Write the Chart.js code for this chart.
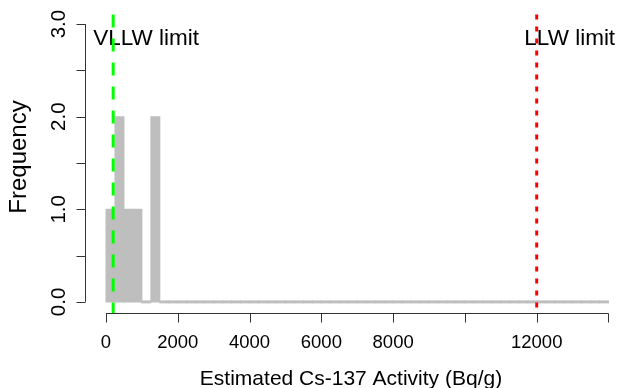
<!DOCTYPE html>
<html>
<head>
<meta charset="utf-8">
<script src="https://cdn.jsdelivr.net/npm/chart.js@4"></script>
<style>
  html, body { margin: 0; padding: 0; background: #fff; }
  #wrap { width: 617px; height: 388px; }
</style>
</head>
<body>
<div id="wrap"><canvas id="histChart" width="617" height="388"></canvas></div>
<script>
// histogram bins (Bq/g), 250 wide
const binWidth = 250;
const binStarts = [
  0, 250, 500, 750, 1000, 1250, 1500, 1750, 2000, 2250, 2500, 2750, 3000, 3250,
  3500, 3750, 4000, 4250, 4500, 4750, 5000, 5250, 5500, 5750, 6000, 6250, 6500, 6750,
  7000, 7250, 7500, 7750, 8000, 8250, 8500, 8750, 9000, 9250, 9500, 9750, 10000, 10250, 10500, 10750,
  11000, 11250, 11500, 11750, 12000, 12250, 12500, 12750, 13000, 13250, 13500, 13750
];
const counts = [
  1, 2, 1, 1, 0, 2, 0, 0, 0, 0, 0, 0, 0, 0,
  0, 0, 0, 0, 0, 0, 0, 0, 0, 0, 0, 0, 0, 0,
  0, 0, 0, 0, 0, 0, 0, 0, 0, 0, 0, 0, 0, 0, 0, 0,
  0, 0, 0, 0, 0, 0, 0, 0, 0, 0, 0, 0
];

const xTicks = [0, 2000, 4000, 6000, 8000, 10000, 12000, 14000];
const xTickLabels = ["0", "2000", "4000", "6000", "8000", "", "12000", ""];
const yTicks = [0, 0.5, 1, 1.5, 2, 2.5, 3];
const yTickLabels = ["0.0", "", "1.0", "", "2.0", "", "3.0"];

const limitNames = ["VLLW limit", "LLW limit"];
const limitValues = [200, 12000];
const limitColors = ["#00FF00", "#FF0000"];
const limitDashes = [[13, 11], [5, 7]];

const xTitle = "Estimated Cs-137 Activity (Bq/g)";
const yTitle = "Frequency";

const font = "'Liberation Sans', Arial, Helvetica, sans-serif";

// R-style axes, tick labels, titles and the limit lines
const rAxes = {
  id: "rAxes",
  afterDraw(chart) {
    const c = chart.ctx;
    const x = chart.scales.x;
    const y = chart.scales.y;
    const area = chart.chartArea;

    c.save();
    c.strokeStyle = "#333";
    c.lineWidth = 1;

    // x axis
    const ax = Math.round(area.bottom) + 0.5;
    c.beginPath();
    c.moveTo(x.getPixelForValue(xTicks[0]), ax);
    c.lineTo(x.getPixelForValue(xTicks[xTicks.length - 1]), ax);
    xTicks.forEach(v => {
      const px = Math.round(x.getPixelForValue(v)) + 0.5;
      c.moveTo(px, ax);
      c.lineTo(px, ax + 9);
    });
    c.stroke();

    // y axis
    const ay = Math.round(area.left) + 0.5;
    c.beginPath();
    c.moveTo(ay, y.getPixelForValue(yTicks[0]));
    c.lineTo(ay, y.getPixelForValue(yTicks[yTicks.length - 1]));
    yTicks.forEach(v => {
      const py = Math.round(y.getPixelForValue(v)) + 0.5;
      c.moveTo(ay, py);
      c.lineTo(ay - 9, py);
    });
    c.stroke();

    c.fillStyle = "#000";
    c.textAlign = "center";
    c.textBaseline = "alphabetic";
    c.font = "18.5px " + font;
    xTicks.forEach((v, i) => {
      if (xTickLabels[i]) c.fillText(xTickLabels[i], x.getPixelForValue(v), ax + 34);
    });
    c.font = "20.5px " + font;
    yTicks.forEach((v, i) => {
      if (!yTickLabels[i]) return;
      c.save();
      c.translate(ay - 21, y.getPixelForValue(v));
      c.rotate(-Math.PI / 2);
      c.fillText(yTickLabels[i], 0, 0);
      c.restore();
    });

    // titles
    c.font = "21px " + font;
    c.fillText(xTitle, 351, 385);
    c.font = "24px " + font;
    c.save();
    c.translate(26, (area.top + area.bottom) / 2 - 6);
    c.rotate(-Math.PI / 2);
    c.fillText(yTitle, 0, 0);
    c.restore();

    // limit labels
    c.font = "22.5px " + font;
    limitNames.forEach((name, i) => {
      c.fillText(name, x.getPixelForValue(limitValues[i]) + 33, 45);
    });

    // limit lines
    c.lineWidth = 3;
    limitValues.forEach((v, i) => {
      const px = x.getPixelForValue(v);
      c.strokeStyle = limitColors[i];
      c.setLineDash(limitDashes[i]);
      c.lineDashOffset = -1.5;
      c.beginPath();
      c.moveTo(px, area.top);
      c.lineTo(px, area.bottom);
      c.stroke();
    });
    c.restore();
  }
};

const ctx = document.getElementById("histChart");

new Chart(ctx, {
  type: "bar",
  data: {
    datasets: [{
      data: counts.map((n, i) => ({ x: binStarts[i] + binWidth / 2, y: n })),
      backgroundColor: "#BEBEBE",
      borderWidth: 0,
      minBarLength: 2,
      inflateAmount: 0.5,
      barPercentage: 1,
      categoryPercentage: 1
    }]
  },
  options: {
    responsive: false,
    animation: false,
    devicePixelRatio: 1,
    layout: { padding: { top: 13, right: 0, bottom: 0, left: 0 } },
    plugins: {
      legend: { display: false },
      tooltip: { enabled: false }
    },
    scales: {
      x: {
        type: "linear",
        min: -585,
        max: 14237,
        offset: false,
        grid: { display: false, offset: false },
        border: { display: false },
        ticks: { display: false },
        afterFit(s) { s.height = 75; }
      },
      y: {
        min: -0.12,
        max: 3.12,
        grid: { display: false },
        border: { display: false },
        ticks: { display: false },
        afterFit(s) { s.width = 85; }
      }
    }
  },
  plugins: [rAxes]
});
</script>
</body>
</html>
